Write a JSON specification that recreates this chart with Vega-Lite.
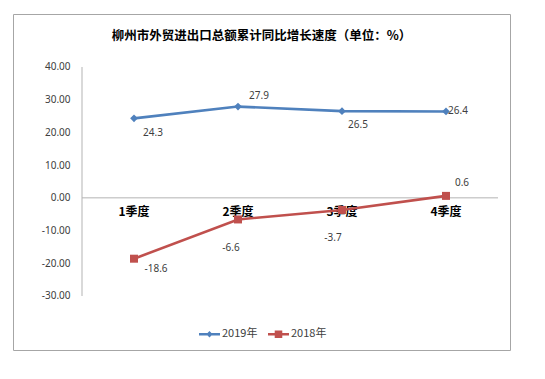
{
  "$schema": "https://vega.github.io/schema/vega-lite/v6.json",
  "width": 497,
  "height": 336,
  "autosize": "none",
  "padding": {"left": 13, "top": 14, "right": 35, "bottom": 29},
  "background": "white",
  "config": {
    "view": {"stroke": "#a6a6a6", "strokeWidth": 1},
    "font": "Noto Sans CJK SC",
    "locale": {"number": {"decimal": ".", "thousands": ",", "grouping": [3], "currency": ["$", ""], "minus": "-"}}
  },
  "title": {
    "text": "柳州市外贸进出口总额累计同比增长速度（单位：%）",
    "fontSize": 12.5,
    "fontWeight": "bold",
    "color": "#000000",
    "anchor": "middle",
    "frame": "group",
    "baseline": "middle",
    "offset": -34
  },
  "data": {
    "values": [
      {"quarter": "1季度", "q": 1, "series": "2019年", "value": 24.3},
      {"quarter": "2季度", "q": 2, "series": "2019年", "value": 27.9},
      {"quarter": "3季度", "q": 3, "series": "2019年", "value": 26.5},
      {"quarter": "4季度", "q": 4, "series": "2019年", "value": 26.4},
      {"quarter": "1季度", "q": 1, "series": "2018年", "value": -18.6},
      {"quarter": "2季度", "q": 2, "series": "2018年", "value": -6.6},
      {"quarter": "3季度", "q": 3, "series": "2018年", "value": -3.7},
      {"quarter": "4季度", "q": 4, "series": "2018年", "value": 0.6}
    ]
  },
  "encoding": {
    "x": {
      "field": "q", "type": "quantitative",
      "scale": {"domain": [-0.1635, 4.6154], "nice": false, "zero": false},
      "axis": {"labels": false, "ticks": false, "domain": false, "grid": false, "title": null}
    },
    "y": {
      "field": "value", "type": "quantitative",
      "scale": {"domain": [-46.51, 56.2], "nice": false, "zero": false},
      "axis": {"values": [-30, -20, -10, 0, 10, 20, 30, 40], "format": ".2f", "domain": false, "ticks": false, "grid": false, "labelPadding": 12, "offset": -69, "title": null, "labelFontSize": 10, "labelColor": "#404040", "labelFont": "Noto Sans"}
    }
  },
  "layer": [
    {
      "transform": [{"filter": "datum.q == 1 && datum.series == '2019年'"}],
      "mark": {"type": "rule", "color": "#b3b3b3", "strokeWidth": 1},
      "encoding": {
        "x": {"datum": 0.5, "type": "quantitative", "scale": {"domain": [-0.1635, 4.6154], "nice": false, "zero": false}, "axis": {"labels": false, "ticks": false, "domain": false, "grid": false, "title": null}},
        "y": {"datum": -30, "type": "quantitative", "scale": {"domain": [-46.51, 56.2], "nice": false, "zero": false}, "axis": {"values": [-30, -20, -10, 0, 10, 20, 30, 40], "format": ".2f", "domain": false, "ticks": false, "grid": false, "labelPadding": 12, "offset": -69, "title": null, "labelFontSize": 10, "labelColor": "#404040", "labelFont": "Noto Sans"}},
        "y2": {"datum": 40}
      }
    },
    {
      "transform": [{"filter": "datum.q == 1 && datum.series == '2019年'"}],
      "mark": {"type": "rule", "color": "#b3b3b3", "strokeWidth": 1},
      "encoding": {
        "x": {"datum": 0.5, "type": "quantitative", "scale": {"domain": [-0.1635, 4.6154], "nice": false, "zero": false}, "axis": {"labels": false, "ticks": false, "domain": false, "grid": false, "title": null}},
        "x2": {"datum": 4.5},
        "y": {"datum": 0, "type": "quantitative", "scale": {"domain": [-46.51, 56.2], "nice": false, "zero": false}, "axis": {"values": [-30, -20, -10, 0, 10, 20, 30, 40], "format": ".2f", "domain": false, "ticks": false, "grid": false, "labelPadding": 12, "offset": -69, "title": null, "labelFontSize": 10, "labelColor": "#404040", "labelFont": "Noto Sans"}}
      }
    },
    {
      "transform": [{"filter": "datum.series == '2019年'"}],
      "mark": {"type": "text", "fontSize": 12, "fontWeight": "bold", "color": "#000000", "baseline": "middle", "dy": 14},
      "encoding": {
        "y": {"datum": 0, "type": "quantitative", "scale": {"domain": [-46.51, 56.2], "nice": false, "zero": false}, "axis": {"values": [-30, -20, -10, 0, 10, 20, 30, 40], "format": ".2f", "domain": false, "ticks": false, "grid": false, "labelPadding": 12, "offset": -69, "title": null, "labelFontSize": 10, "labelColor": "#404040", "labelFont": "Noto Sans"}},
        "text": {"field": "quarter"}
      }
    },
    {
      "mark": {"type": "point", "filled": true, "opacity": 0},
      "encoding": {
        "color": {
          "field": "series", "type": "nominal",
          "scale": {"domain": ["2019年", "2018年"], "range": ["#4F81BD", "#C0504D"]},
          "legend": {
            "orient": "none", "legendX": 186, "legendY": 309.5, "direction": "horizontal", "title": null,
            "symbolSize": 441, "symbolOpacity": 1, "symbolStrokeWidth": 0,
            "symbolType": "M-1,-0.12H1V0.12H-1Z M0,-0.32L0.3,0L0,0.32L-0.3,0Z",
            "labelFontSize": 11, "labelColor": "#404040", "labelFont": "Noto Sans CJK SC",
            "labelOffset": 2, "columnPadding": 10, "padding": 0,
            "encode": {
              "symbols": {
                "update": {
                  "shape": {"signal": "datum.value === '2019年' ? 'M-1,-0.12H1V0.12H-1Z M0,-0.32L0.3,0L0,0.32L-0.3,0Z' : 'M-1,-0.12H1V0.12H-1Z M-0.36,-0.36H0.36V0.36H-0.36Z'"}
                }
              }
            }
          }
        }
      }
    },
    {
      "mark": {"type": "line", "strokeWidth": 2.6},
      "encoding": {
        "stroke": {"field": "series", "type": "nominal", "scale": {"domain": ["2019年", "2018年"], "range": ["#4F81BD", "#C0504D"]}, "legend": null}
      }
    },
    {
      "transform": [{"filter": "datum.series == '2019年'"}],
      "mark": {"type": "point", "filled": true, "opacity": 1, "shape": "diamond", "size": 60},
      "encoding": {
        "fill": {"field": "series", "type": "nominal", "scale": {"domain": ["2019年", "2018年"], "range": ["#4F81BD", "#C0504D"]}, "legend": null}
      }
    },
    {
      "transform": [{"filter": "datum.series == '2018年'"}],
      "mark": {"type": "point", "filled": true, "opacity": 1, "shape": "square", "size": 64},
      "encoding": {
        "fill": {"field": "series", "type": "nominal", "scale": {"domain": ["2019年", "2018年"], "range": ["#4F81BD", "#C0504D"]}, "legend": null}
      }
    },
    {
      "transform": [{"filter": "datum.series == '2019年' && datum.q == 1"}],
      "mark": {"type": "text", "fontSize": 10, "color": "#404040", "font": "Noto Sans", "baseline": "middle", "dx": 19, "dy": 15},
      "encoding": {"text": {"field": "value", "type": "nominal"}}
    },
    {
      "transform": [{"filter": "datum.series == '2019年' && datum.q == 2"}],
      "mark": {"type": "text", "fontSize": 10, "color": "#404040", "font": "Noto Sans", "baseline": "middle", "dx": 21, "dy": -11},
      "encoding": {"text": {"field": "value", "type": "nominal"}}
    },
    {
      "transform": [{"filter": "datum.series == '2019年' && datum.q == 3"}],
      "mark": {"type": "text", "fontSize": 10, "color": "#404040", "font": "Noto Sans", "baseline": "middle", "dx": 16, "dy": 14},
      "encoding": {"text": {"field": "value", "type": "nominal"}}
    },
    {
      "transform": [{"filter": "datum.series == '2019年' && datum.q == 4"}],
      "mark": {"type": "text", "fontSize": 10, "color": "#404040", "font": "Noto Sans", "baseline": "middle", "dx": 12, "dy": 0},
      "encoding": {"text": {"field": "value", "type": "nominal"}}
    },
    {
      "transform": [{"filter": "datum.series == '2018年' && datum.q == 1"}],
      "mark": {"type": "text", "fontSize": 10, "color": "#404040", "font": "Noto Sans", "baseline": "middle", "dx": 22, "dy": 10},
      "encoding": {"text": {"field": "value", "type": "nominal"}}
    },
    {
      "transform": [{"filter": "datum.series == '2018年' && datum.q == 2"}],
      "mark": {"type": "text", "fontSize": 10, "color": "#404040", "font": "Noto Sans", "baseline": "middle", "dx": -7, "dy": 29},
      "encoding": {"text": {"field": "value", "type": "nominal"}}
    },
    {
      "transform": [{"filter": "datum.series == '2018年' && datum.q == 3"}],
      "mark": {"type": "text", "fontSize": 10, "color": "#404040", "font": "Noto Sans", "baseline": "middle", "dx": -9, "dy": 28},
      "encoding": {"text": {"field": "value", "type": "nominal"}}
    },
    {
      "transform": [{"filter": "datum.series == '2018年' && datum.q == 4"}],
      "mark": {"type": "text", "fontSize": 10, "color": "#404040", "font": "Noto Sans", "baseline": "middle", "dx": 16, "dy": -13},
      "encoding": {"text": {"field": "value", "type": "nominal"}}
    }
  ]
}
